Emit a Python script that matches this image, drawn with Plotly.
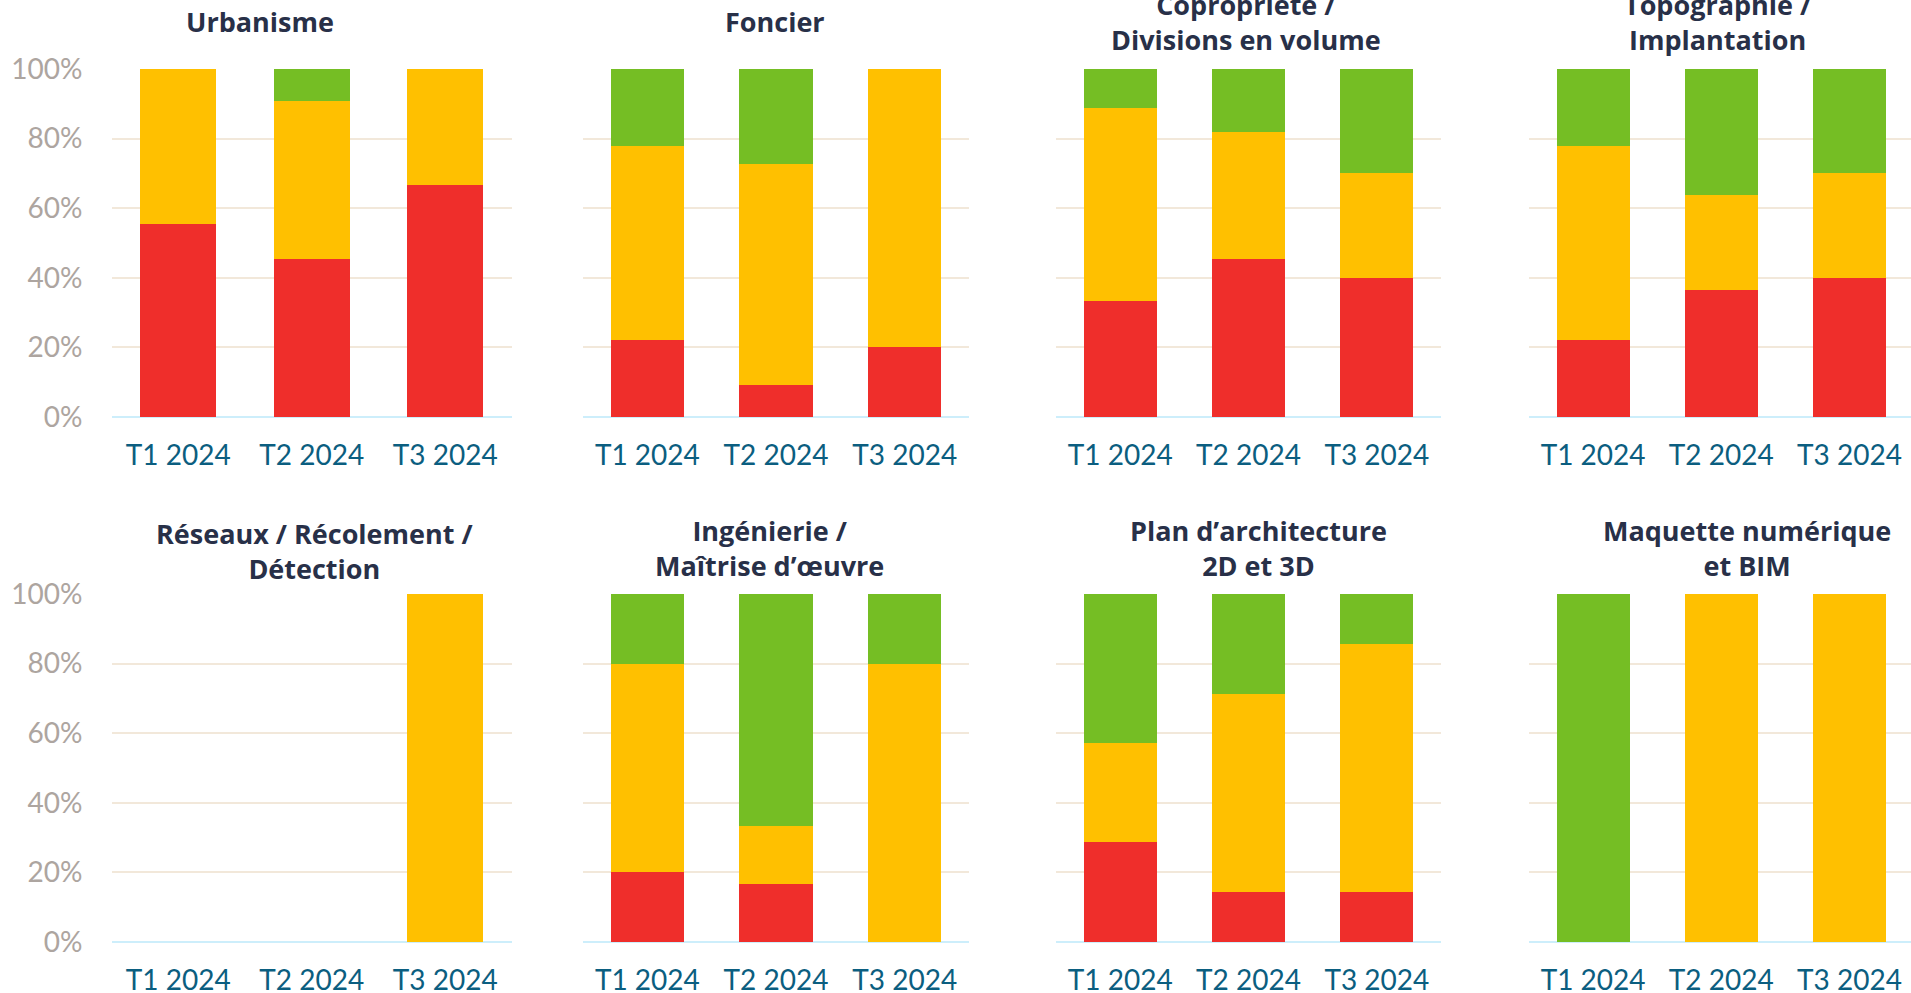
import plotly.graph_objects as go

W, H = 1911, 993

categories = ["T1 2024", "T2 2024", "T3 2024"]

titles = [
    "Urbanisme",
    "Foncier",
    "Copropriété /<br>Divisions en volume",
    "Topographie /<br>Implantation",
    "Réseaux / Récolement /<br>Détection",
    "Ingénierie /<br>Maîtrise d’œuvre",
    "Plan d’architecture<br>2D et 3D",
    "Maquette numérique<br>et BIM",
]

# percentages per panel: red (négatif), yellow (stable), green (positif)
red_vals = [
    [55.6, 45.5, 66.7],
    [22.2, 9.1, 20.0],
    [33.3, 45.5, 40.0],
    [22.2, 36.4, 40.0],
    [0, 0, 0],
    [20.0, 16.7, 0],
    [28.6, 14.3, 14.3],
    [0, 0, 0],
]
yellow_vals = [
    [44.4, 45.4, 33.3],
    [55.6, 63.6, 80.0],
    [55.6, 36.4, 30.0],
    [55.6, 27.3, 30.0],
    [0, 0, 100.0],
    [60.0, 16.6, 80.0],
    [28.6, 57.1, 71.4],
    [0, 100.0, 100.0],
]
green_vals = [
    [0, 9.1, 0],
    [22.2, 27.3, 0],
    [11.1, 18.2, 30.0],
    [22.2, 36.4, 30.0],
    [0, 0, 0],
    [20.0, 66.7, 20.0],
    [42.9, 28.6, 14.3],
    [100.0, 0, 0],
]

y_ticks = [0, 20, 40, 60, 80, 100]
y_tick_labels = ["0%", "20%", "40%", "60%", "80%", "100%"]

RED = "#EF2E2B"
YELLOW = "#FFC000"
GREEN = "#75BE24"
GRID = "#F2E8DA"
BASE = "#CDEEFB"
YTICK = "#ADA5A0"
XTICK = "#0B5E80"
TITLE = "#283048"
FONT = "Lato"
TFONT = "Open Sans"

# panel geometry in pixels
col_px = [(111.5, 512), (583, 969), (1056, 1441), (1529, 1911)]
row_px = [(69, 417), (594, 942)]
title_pos = [
    (260, 22), (775, 22), (1246, 22.5), (1718, 22.5),
    (315, 551), (769, 548), (1258, 548), (1747, 548),
]


def xp(px):
    return px / W


def yp(py):
    return (H - py) / H


fig = go.Figure()
layout = {}
for i in range(8):
    r, c = divmod(i, 4)
    n = "" if i == 0 else str(i + 1)
    xa, ya = "x" + n, "y" + n
    for vals, col in ((red_vals, RED), (yellow_vals, YELLOW), (green_vals, GREEN)):
        fig.add_trace(go.Bar(
            x=categories, y=vals[i], marker=dict(color=col, line=dict(width=0)),
            xaxis=xa, yaxis=ya, showlegend=False, hoverinfo="skip",
        ))
    x0, x1 = col_px[c]
    ytop, ybot = row_px[r]
    layout["xaxis" + n] = dict(
        domain=[xp(x0), xp(x1)], anchor=ya, automargin=False,
        range=[-0.5, 2.48 if c == 3 else 2.5],
        showgrid=False, zeroline=False, showline=False,
        tickfont=dict(family=FONT, size=28, color=XTICK),
        ticks="", ticklabelstandoff=19, fixedrange=True,
    )
    layout["yaxis" + n] = dict(
        domain=[yp(ybot), yp(ytop)], anchor=xa, automargin=False,
        range=[0, 100], tickvals=y_ticks, ticktext=y_tick_labels,
        showticklabels=(c == 0),
        showgrid=True, gridcolor=GRID, gridwidth=2,
        zeroline=True, zerolinecolor=BASE, zerolinewidth=2,
        tickfont=dict(family=FONT, size=28, color=YTICK),
        ticks="", ticklabelstandoff=28, fixedrange=True,
    )

annotations = []
for i, t in enumerate(titles):
    tx, ty = title_pos[i]
    annotations.append(dict(
        text="<b>" + t + "</b>", x=xp(tx), y=yp(ty), xref="paper", yref="paper",
        xanchor="center", yanchor="middle", showarrow=False,
        font=dict(family=TFONT, size=27, color=TITLE), align="center",
    ))

fig.update_layout(
    width=W, height=H, barmode="stack", bargap=0.43,
    margin=dict(l=0, r=0, t=0, b=0),
    paper_bgcolor="white", plot_bgcolor="white",
    annotations=annotations, **layout,
)

fig.write_html(
    "out.html",
    config={"displayModeBar": False},
    post_script="document.body.style.margin='0';document.body.style.overflow='hidden';",
)
